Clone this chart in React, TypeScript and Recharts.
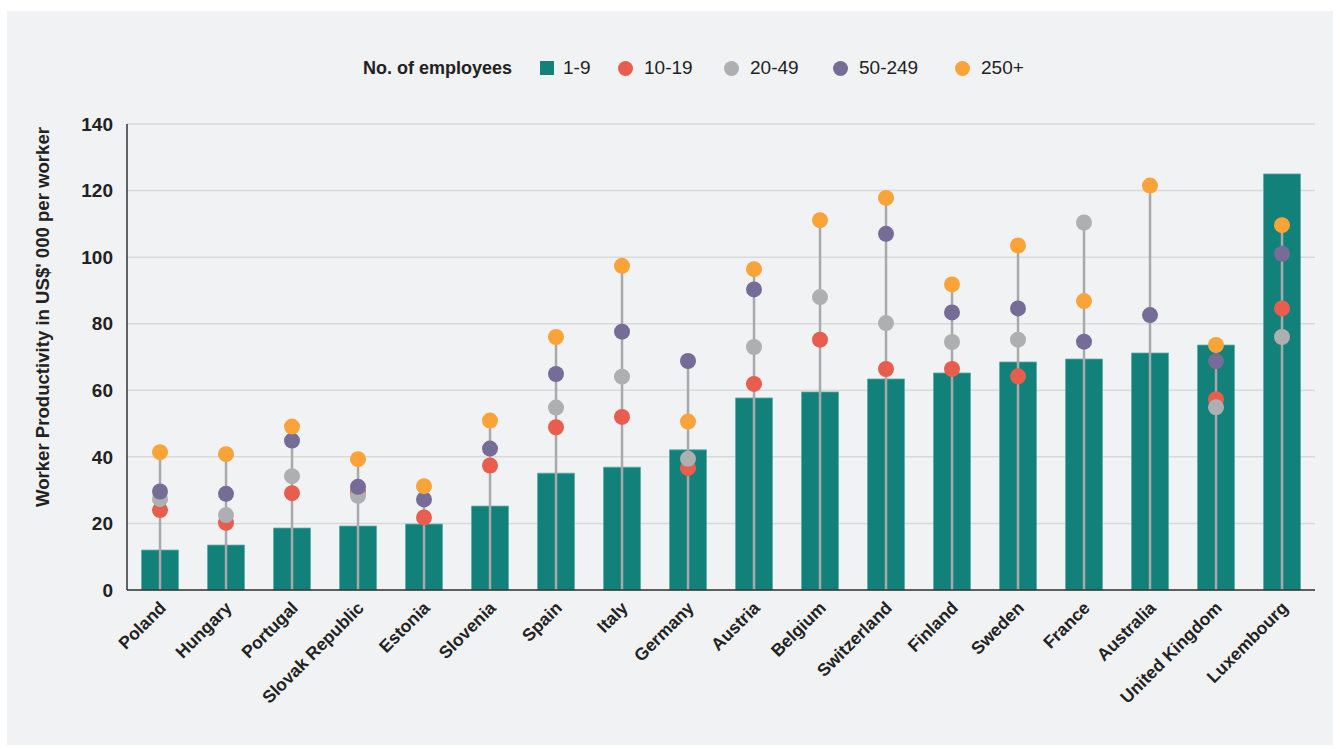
import React from "react";
import {
  Bar,
  CartesianGrid,
  ComposedChart,
  Legend,
  Scatter,
  XAxis,
  YAxis,
} from "recharts";

const countries = [
  "Poland",
  "Hungary",
  "Portugal",
  "Slovak Republic",
  "Estonia",
  "Slovenia",
  "Spain",
  "Italy",
  "Germany",
  "Austria",
  "Belgium",
  "Switzerland",
  "Finland",
  "Sweden",
  "France",
  "Australia",
  "United Kingdom",
  "Luxembourg",
];

const size1to9 = [12.0, 13.5, 18.6, 19.2, 19.8, 25.2, 35.1, 36.9, 42.1, 57.7, 59.5, 63.4, 65.2, 68.5, 69.4, 71.2, 73.6, 125.0];
const size10to19 = [24.0, 20.2, 29.1, 29.5, 21.8, 37.4, 48.9, 52.0, 36.6, 61.9, 75.2, 66.4, 66.4, 64.2, null, null, 57.3, 84.6];
const size20to49 = [27.3, 22.5, 34.2, 28.3, null, null, 54.8, 64.1, 39.4, 73.0, 88.0, 80.2, 74.5, 75.2, 110.4, null, 54.9, 76.0];
const size50to249 = [29.6, 28.9, 44.9, 31.0, 27.2, 42.5, 64.9, 77.6, 68.8, 90.3, null, 107.0, 83.4, 84.6, 74.6, 82.6, 68.7, 101.0];
const size250plus = [41.4, 40.8, 49.1, 39.3, 31.2, 50.9, 76.0, 97.4, 50.6, 96.4, 111.1, 117.8, 91.8, 103.5, 86.8, 121.5, 73.6, 109.6];

const yTicks = [0, 20, 40, 60, 80, 100, 120, 140];

const FONT = "Arial, 'Liberation Sans', Helvetica, sans-serif";
const TEAL = "#12817a";
const RED = "#e95d4f";
const GRAY = "#adafb1";
const PURPLE = "#766c98";
const ORANGE = "#f9a338";
const STEM = "#a7a9ab";

const dotSeries = [
  { key: "s10to19", name: "10-19", color: RED, slot: 80 },
  { key: "s20to49", name: "20-49", color: GRAY, slot: 83 },
  { key: "s50to249", name: "50-249", color: PURPLE, slot: 96 },
  { key: "s250plus", name: "250+", color: ORANGE, slot: 60 },
];

const data = countries.map((country, i) => {
  const dots = [size10to19[i], size20to49[i], size50to249[i], size250plus[i]].filter(
    (v) => v != null
  ) as number[];
  return {
    country,
    s1to9: size1to9[i],
    s10to19: size10to19[i],
    s20to49: size20to49[i],
    s50to249: size50to249[i],
    s250plus: size250plus[i],
    stem: Math.max(...dots),
  };
});

function StemShape(props: any) {
  const { x, y, width, height } = props;
  const cx = x + width / 2;
  return <line x1={cx} y1={y} x2={cx} y2={y + height} stroke={STEM} strokeWidth={2.5} />;
}

function makeDot(key: string, color: string) {
  return (props: any) => {
    if (props.payload == null || props.payload[key] == null) return <g />;
    return <circle cx={props.cx} cy={props.cy} r={8} fill={color} />;
  };
}

function CountryTick(props: any) {
  const { x, y, payload } = props;
  return (
    <g transform={`translate(${x + 7},${y + 11})`}>
      <text
        x={0}
        y={0}
        transform="rotate(-45)"
        textAnchor="end"
        fontFamily={FONT}
        fontWeight="bold"
        fontSize={17.5}
        fill="#222"
      >
        {payload.value}
      </text>
    </g>
  );
}

function LegendContent() {
  const text: React.CSSProperties = { fontSize: 19, color: "#222", lineHeight: "30px" };
  return (
    <div
      style={{
        display: "flex",
        alignItems: "center",
        height: 30,
        paddingLeft: 356,
        fontFamily: FONT,
      }}
    >
      <span style={{ ...text, fontSize: 18, fontWeight: "bold", width: 177 }}>No. of employees</span>
      <span style={{ width: 14, height: 14, background: TEAL, marginRight: 9 }} />
      <span style={{ ...text, width: 55 }}>1-9</span>
      {dotSeries.map((s) => (
        <React.Fragment key={s.key}>
          <span
            style={{ width: 15, height: 15, borderRadius: "50%", background: s.color, marginRight: 11 }}
          />
          <span style={{ ...text, width: s.slot }}>{s.name}</span>
        </React.Fragment>
      ))}
    </div>
  );
}

function YLabel(props: any) {
  const { viewBox } = props;
  const cy = viewBox.y + viewBox.height / 2 - 40;
  return (
    <text
      x={0}
      y={0}
      transform={`translate(${viewBox.x + 42},${cy}) rotate(-90)`}
      textAnchor="middle"
      fontFamily={FONT}
      fontWeight="bold"
      fontSize={18}
      textLength={380}
      lengthAdjust="spacingAndGlyphs"
      fill="#222"
    >
      Worker Productivity in US$' 000 per worker
    </text>
  );
}

export default function App() {
  return (
    <div style={{ position: "relative", width: 1340, height: 749, background: "#fff" }}>
      <style>{"body{margin:0}"}</style>
      <div
        style={{
          position: "absolute",
          left: 7,
          top: 11,
          width: 1326,
          height: 734,
          background: "#f1f2f4",
        }}
      >
        <ComposedChart
          width={1326}
          height={734}
          data={data}
          margin={{ top: 83, right: 18, bottom: 5, left: 0 }}
          barCategoryGap="22%"
        >
          <CartesianGrid vertical={false} stroke="#d8d9db" strokeWidth={1.5} />
          <XAxis
            dataKey="country"
            interval={0}
            height={150}
            tickLine={false}
            axisLine={{ stroke: "#333", strokeWidth: 1.5 }}
            tick={<CountryTick />}
          />
          <XAxis xAxisId="stem" dataKey="country" hide />
          <YAxis
            domain={[0, 140]}
            ticks={yTicks}
            width={120}
            tickLine={false}
            tickSize={0}
            tickMargin={14}
            axisLine={{ stroke: "#333", strokeWidth: 1.5 }}
            tick={{ fontFamily: FONT, fontWeight: "bold", fontSize: 19, fill: "#222" }}
            label={<YLabel />}
          />
          <Legend
            verticalAlign="top"
            content={<LegendContent />}
            wrapperStyle={{ top: 42, left: 0, width: 1326 }}
          />
          <Bar
            dataKey="s1to9"
            name="1-9"
            fill={TEAL}
            stroke="#5aaea6"
            strokeWidth={0.8}
            isAnimationActive={false}
          />
          <Bar
            dataKey="stem"
            xAxisId="stem"
            shape={<StemShape />}
            legendType="none"
            isAnimationActive={false}
          />
          {dotSeries.map((s) => (
            <Scatter
              key={s.key}
              dataKey={s.key}
              name={s.name}
              fill={s.color}
              shape={makeDot(s.key, s.color)}
              isAnimationActive={false}
            />
          ))}
        </ComposedChart>
      </div>
    </div>
  );
}
